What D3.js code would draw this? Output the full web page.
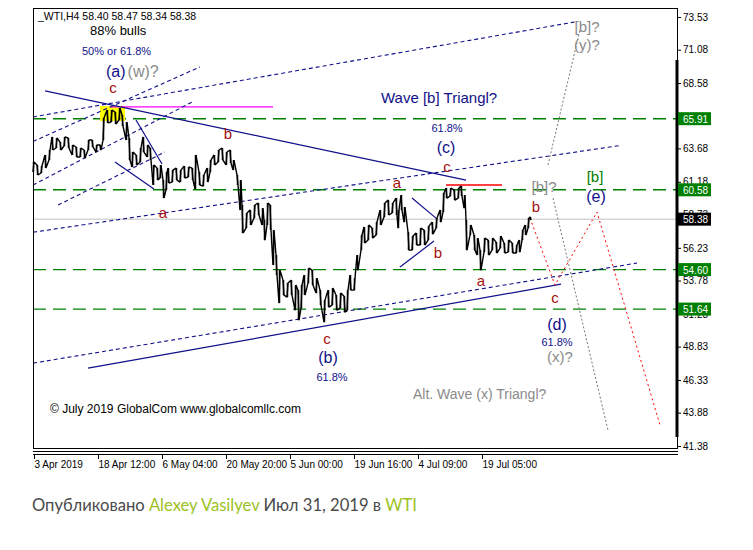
<!DOCTYPE html>
<html><head><meta charset="utf-8">
<script src="https://cdn.jsdelivr.net/npm/d3@7/dist/d3.min.js"></script>
<style>body{margin:0;background:#fff}svg{display:block}</style>
</head><body>
<script>
// ---- data ----
const barIdx = [0,4,8,12,16,19,23,27,31,35,39,43,47,51,55,59,63,67,70,74,78,82,86,89,93,96,99,103,107,110,114,117,120,124,127,130,133,
135,139,143,147,151,155,159,162,166,170,174,177,181,185,189,193,197,200,204,207,209,213,217,221,225,229,231,234,237,240,243,246,250,254,258,262,265,
268,271,275,279,283,287,291,295,299,303,307,311,314,317,321,324,328,331,335,339,343,347,351,355,359,363,365,368,371,375,379,383,387,
391,395,399,403,407,410,413,417,421,425,428,431,433,437,441,444,447,451,455,459,463,467,471,475,479,483,486,489,492,495,497];
const barHigh = [62.66,62.44,62.36,63.19,63.56,64.54,64.46,64.16,64.54,64.46,63.94,63.79,63.71,63.56,64.31,64.31,63.94,63.94,65.96,66.56,66.56,66.41,66.71,66.19,65.66,64.46,63.41,63.19,63.71,64.54,63.94,63.71,62.44,62.21,62.44,61.31,61.91,
62.21,62.06,62.21,62.06,62.36,62.29,62.21,63.19,61.91,61.69,62.21,62.81,63.19,63.56,63.71,63.41,63.56,62.81,61.69,61.31,59.44,58.84,59.06,59.44,59.59,59.21,58.31,59.59,59.44,57.56,55.69,54.56,53.81,53.59,53.81,53.44,53.06,
53.44,54.19,54.71,54.56,53.96,53.06,52.31,53.06,53.21,52.69,52.84,52.61,53.06,54.19,53.96,55.69,57.19,57.79,57.94,57.71,58.16,59.06,59.59,59.81,59.59,59.96,59.06,60.19,59.29,57.41,57.11,57.34,57.71,
57.56,57.86,58.16,58.46,59.06,60.34,60.71,60.71,60.56,60.71,60.86,60.19,58.31,57.94,57.19,56.96,56.06,56.96,56.81,56.96,56.66,57.11,56.59,56.81,56.59,56.44,56.81,57.56,57.94,58.46,58.54];
const barLow = [61.91,61.69,61.84,62.21,62.81,63.56,63.71,63.56,63.86,63.71,63.19,63.04,63.04,62.96,63.56,63.79,63.41,63.56,64.31,65.59,65.66,65.51,65.81,65.36,64.31,62.81,62.29,62.44,62.66,63.41,63.04,62.81,60.94,61.31,61.46,59.96,60.56,
61.09,61.16,61.31,61.16,61.46,61.54,61.31,60.64,60.94,60.86,61.16,61.91,62.44,62.66,62.81,62.44,62.59,62.06,60.94,59.06,57.34,57.71,57.94,58.46,58.69,57.94,56.81,57.94,57.56,54.94,54.19,52.09,52.69,52.54,52.69,51.56,50.81,
51.71,52.69,53.59,53.44,52.84,51.94,50.66,51.79,51.94,51.56,51.71,51.41,51.56,53.06,53.06,54.56,56.06,56.59,56.81,56.96,57.19,57.94,58.54,58.69,58.84,58.69,57.71,59.06,58.16,56.06,56.06,56.44,56.44,
56.44,56.81,57.26,57.71,58.16,58.91,59.96,60.11,59.81,59.96,60.11,59.21,56.06,57.19,56.06,55.69,54.56,55.91,55.69,56.06,55.84,56.21,55.84,55.91,55.84,55.84,55.91,56.81,57.19,57.71,58.31];

const priceTicks = [73.53,71.08,68.58,63.68,61.18,58.73,56.23,53.78,51.28,48.83,46.33,43.88,41.38];
const levelLines = [65.91,60.58,54.60,51.64];
const lastPrice = 58.38;
const timeTickIdx = [1,65,129,193,257,321,385,449];
const timeTickLabels = ["3 Apr 2019","18 Apr 12:00","6 May 04:00","20 May 20:00","5 Jun 00:00","19 Jun 16:00","4 Jul 09:00","19 Jul 05:00"];

// trend lines: [i1,p1,i2,p2]
const solidLines = [[12,67.99,433,61.31],[55,47.21,528,53.51],[103,65.81,129,62.51],[82,62.66,121,60.64],[379,59.96,403,58.46],[367,54.79,401,56.74]];
const dashedLines = [[0,57.40,587,63.90],[0,47.59,604,55.09],[0,66.04,545,73.20],[0,64.20,167,69.79],[0,60.94,160,67.20],[25,59.44,132,63.41]];
const redLevel = [413,469,60.94];
const magentaLevel = [77,240,66.79];
const yellowBox = [67,92,65.74,66.86];
const redProjI = [497,522,564,627];
const redProjP = [58.46,53.44,58.91,42.94];
const grayProj = [[515,62.44,547,72.56],[520,59.96,575,42.56]];

// labels: [i, price, text, kind]
const waveLabels = [
 [80,67.84,"c","r"],[195,64.41,"b","r"],[130,58.46,"a","r"],[364,60.71,"a","r"],[414,61.91,"c","r"],
 [405,55.46,"b","r"],[448,53.36,"a","r"],[294,49.01,"c","r"],[503,58.91,"b","r"],[522,52.09,"c","r"],
 [413,63.34,"(c)","nb"],[295,47.59,"(b)","nb"],[524,50.06,"(d)","nb"],[563,59.66,"(e)","nb"],
 [414,64.91,"61.8%","ns"],[299,46.24,"61.8%","ns"],[524,48.86,"61.8%","ns"],
 [511,60.41,"[b]?","g"],[554,72.41,"[b]?","g"],[554,71.06,"(y)?","g"],[527,47.66,"(x)?","g"],
 [562,61.16,"[b]","gr"]
];
</script>
<script>
const W=753,H=550;
const svg=d3.select("body").append("svg").attr("width",W).attr("height",H).style("font-family","'Liberation Sans',Arial,sans-serif");
svg.append("rect").attr("width",W).attr("height",H).attr("fill","#fff");
const x=d3.scaleLinear().domain([0,644]).range([33,677]);
const y=d3.scaleLinear().domain([41.38,73.53]).range([446,17]);
const NAVY="#10108a", DRED="#a50f0f", GRAY="#8a8a8a", GREEN="#008000";

// level lines
svg.selectAll(".lvl").data(levelLines).join("line")
 .attr("x1",33).attr("x2",677).attr("y1",d=>y(d)).attr("y2",d=>y(d))
 .attr("stroke",GREEN).attr("stroke-width",1.4).attr("stroke-dasharray","13,7");
svg.append("line").attr("x1",33).attr("x2",677).attr("y1",y(lastPrice)).attr("y2",y(lastPrice)).attr("stroke","#c0c0c0");

// yellow box & magenta
svg.append("rect").attr("x",x(yellowBox[0])).attr("width",x(yellowBox[1])-x(yellowBox[0]))
 .attr("y",y(yellowBox[3])).attr("height",y(yellowBox[2])-y(yellowBox[3])).attr("fill","#ffff00");
svg.append("line").attr("x1",x(magentaLevel[0])).attr("x2",x(magentaLevel[1])).attr("y1",y(magentaLevel[2])).attr("y2",y(magentaLevel[2])).attr("stroke","#ff00ff").attr("stroke-width",1.3);
svg.append("line").attr("x1",x(redLevel[0])).attr("x2",x(redLevel[1])).attr("y1",y(redLevel[2])).attr("y2",y(redLevel[2])).attr("stroke","#ff0000").attr("stroke-width",1.3);

// trend lines
svg.selectAll(".sl").data(solidLines).join("line")
 .attr("x1",d=>x(d[0])).attr("y1",d=>y(d[1])).attr("x2",d=>x(d[2])).attr("y2",d=>y(d[3]))
 .attr("stroke",NAVY).attr("stroke-width",1.2);
svg.selectAll(".dl").data(dashedLines).join("line")
 .attr("x1",d=>x(d[0])).attr("y1",d=>y(d[1])).attr("x2",d=>x(d[2])).attr("y2",d=>y(d[3]))
 .attr("stroke",NAVY).attr("stroke-width",1.1).attr("stroke-dasharray","4,3");
svg.selectAll(".gp").data(grayProj).join("line")
 .attr("x1",d=>x(d[0])).attr("y1",d=>y(d[1])).attr("x2",d=>x(d[2])).attr("y2",d=>y(d[3]))
 .attr("stroke","#777").attr("stroke-width",1).attr("stroke-dasharray","2,2");
svg.append("path").datum(redProjI.map((d,k)=>[d,redProjP[k]]))
 .attr("d",d3.line().x(d=>x(d[0])).y(d=>y(d[1]))).attr("fill","none")
 .attr("stroke","#ff0000").attr("stroke-width",1).attr("stroke-dasharray","2,3");

// price bars
const pts=[];
barIdx.forEach((b,k)=>{
  if(k%2===0){pts.push([b,barLow[k]]);pts.push([b+1,barHigh[k]]);}
  else {pts.push([b,barHigh[k]]);pts.push([b+1,barLow[k]]);}
});
svg.append("path").datum(pts).attr("d",d3.line().x(d=>x(d[0])).y(d=>y(d[1])))
 .attr("fill","none").attr("stroke","#000").attr("stroke-width",1.4).attr("stroke-linejoin","bevel");
svg.selectAll(".bar").data(barIdx).join("line")
 .attr("x1",d=>x(d)+0.5).attr("x2",d=>x(d)+0.5).attr("y1",(d,k)=>y(barHigh[k])).attr("y2",(d,k)=>y(barLow[k]))
 .attr("stroke","#000").attr("stroke-width",1.5);

// frame
svg.append("rect").attr("x",33.5).attr("y",8.5).attr("width",644).attr("height",440).attr("fill","none").attr("stroke","#000");
svg.append("line").attr("x1",33).attr("x2",678).attr("y1",451.5).attr("y2",451.5).attr("stroke","#000");
svg.append("line").attr("x1",33).attr("x2",678).attr("y1",454.5).attr("y2",454.5).attr("stroke","#000");
svg.append("line").attr("x1",677).attr("x2",677).attr("y1",60).attr("y2",437).attr("stroke","#000").attr("stroke-width",3);

// right axis
const ax=svg.append("g").attr("transform","translate(677,0)").call(d3.axisRight(y).tickValues(priceTicks).tickSize(4).tickFormat(d3.format(".2f")));
ax.select(".domain").remove();
ax.selectAll("text").attr("font-size",10).attr("font-family","'Liberation Sans',Arial,sans-serif").attr("fill","#000").attr("x",6);
// level labels
const lab=svg.selectAll(".ll").data(levelLines.map(v=>[v,GREEN]).concat([[lastPrice,"#000"]])).join("g");
lab.append("rect").attr("x",678).attr("width",33).attr("y",d=>y(d[0])-6.5).attr("height",13).attr("fill",d=>d[1]);
lab.append("text").attr("x",683).attr("y",d=>y(d[0])+4).text(d=>d[0].toFixed(2)).attr("fill","#fff").attr("font-size",10);

// bottom axis
const bx=svg.append("g").attr("transform","translate(0,454)").call(d3.axisBottom(x).tickValues(timeTickIdx).tickSize(5).tickFormat((d,k)=>timeTickLabels[k]));
bx.select(".domain").remove();
bx.selectAll("text").attr("font-size",10).attr("font-family","'Liberation Sans',Arial,sans-serif").attr("fill","#000").attr("text-anchor","start").attr("x",0).attr("dy","0.6em");

// wave labels
const sty={r:[DRED,15],nb:[NAVY,16],ns:[NAVY,11],g:[GRAY,15],gr:[GREEN,15]};
svg.selectAll(".wl").data(waveLabels).join("text")
 .attr("x",d=>x(d[0])).attr("y",d=>y(d[1])).attr("text-anchor","middle")
 .attr("fill",d=>sty[d[3]][0]).attr("font-size",d=>sty[d[3]][1]).text(d=>d[2]);

// fixed texts
svg.append("text").attr("x",38).attr("y",20).attr("font-size",10.5).text("_WTI,H4  58.40 58.47 58.34 58.38");
svg.append("text").attr("x",90).attr("y",35).attr("font-size",13).text("88% bulls");
svg.append("text").attr("x",82).attr("y",55).attr("font-size",11).attr("fill",NAVY).text("50% or 61.8%");
const aw=svg.append("text").attr("x",106).attr("y",77).attr("font-size",16);
aw.append("tspan").attr("fill",NAVY).text("(a)");
aw.append("tspan").attr("fill",GRAY).attr("dx",2).text("(w)?");
svg.append("text").attr("x",381).attr("y",103).attr("font-size",15).attr("fill",NAVY).text("Wave [b] Triangl?");
svg.append("text").attr("x",413).attr("y",399).attr("font-size",14).attr("fill",GRAY).text("Alt. Wave (x) Triangl?");
svg.append("text").attr("x",50).attr("y",413).attr("font-size",12).attr("fill","#000").text("© July 2019 GlobalCom www.globalcomllc.com");

const ft=svg.append("text").attr("x",32).attr("y",511).attr("font-size",16.6).attr("font-family","Lato,sans-serif").attr("fill","#4a4a4a");
ft.append("tspan").text("Опубликовано ");
ft.append("tspan").attr("fill","#9cc21f").text("Alexey Vasilyev");
ft.append("tspan").text(" Июл 31, 2019 в ");
ft.append("tspan").attr("fill","#9cc21f").text("WTI");
</script>
</body></html>
